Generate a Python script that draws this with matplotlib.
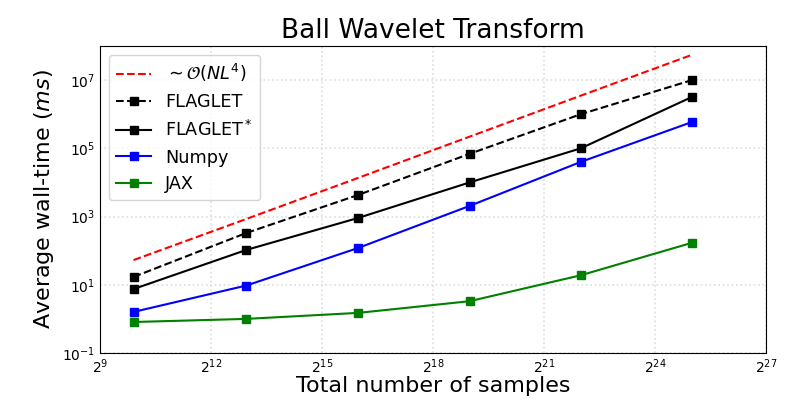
import matplotlib
matplotlib.use("Agg")
import matplotlib.pyplot as plt

N = [960, 7936, 64512, 520192, 4177920, 33488896]
ref = [53, 850, 13600, 2.2e5, 3.5e6, 5.5e7]
flaglet = [17, 330, 4300, 69000, 1.0e6, 1.0e7]
flaglet_star = [7.5, 105, 910, 1.0e4, 1.0e5, 3.2e6]
numpy_t = [1.6, 9.5, 120, 2050, 4.0e4, 5.9e5]
jax_t = [0.81, 1.0, 1.5, 3.3, 19, 170]

fig = plt.figure(figsize=(8, 4), dpi=100)
ax = fig.add_axes([0.125, 0.1175, 0.8325, 0.7675])
ax.plot(N, ref, 'r--', label=r'$\sim\mathcal{O}(NL^4)$')
ax.plot(N, flaglet, 'k--', marker='s', markersize=6, label='FLAGLET')
ax.plot(N, flaglet_star, 'k-', marker='s', markersize=6, label=r'FLAGLET$^*$')
ax.plot(N, numpy_t, 'b-', marker='s', markersize=6, label='Numpy')
ax.plot(N, jax_t, 'g-', marker='s', markersize=6, label='JAX')
ax.set_xscale('log', base=2)
ax.set_yscale('log')
ax.set_xlim(2**9, 2**27)
ax.set_ylim(1e-1, 1e8)
ax.set_xticks([2**k for k in range(9, 28, 3)])
ax.set_yticks([10.0**k for k in range(-1, 9, 2)])
ax.minorticks_off()
ax.tick_params(direction='in', length=0, labelsize=10)
ax.grid(True, linestyle=':', color='#dddddd', linewidth=1.2)
ax.set_title('Ball Wavelet Transform', fontsize=19)
ax.set_xlabel('Total number of samples', fontsize=16, labelpad=0)
ax.set_ylabel(r'Average wall-time ($ms$)', fontsize=16)
ax.legend(loc='upper left', fontsize=12.7)
fig.savefig('out.png')
